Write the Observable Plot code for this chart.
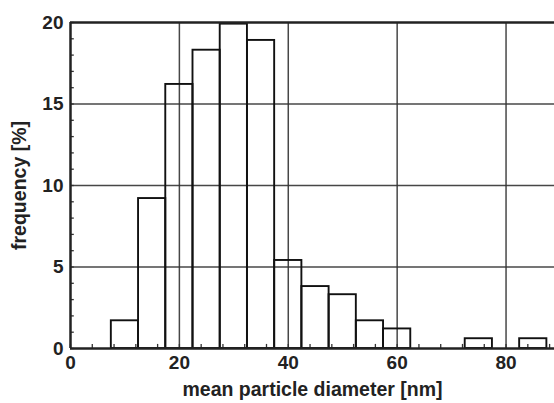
<!DOCTYPE html>
<html>
<head>
<meta charset="utf-8">
<script src="https://cdn.jsdelivr.net/npm/d3@7"></script>
<script src="https://cdn.jsdelivr.net/npm/@observablehq/plot@0.6"></script>
<style>
  html, body { margin: 0; padding: 0; background: #fff; }
  svg { display: block; }
</style>
</head>
<body>
<div id="chart"></div>
<script>
const binCenters = [10, 15, 20, 25, 30, 35, 40, 45, 50, 55, 60, 65, 70, 75, 80, 85];
const frequency  = [1.7, 9.2, 16.2, 18.3, 19.9, 18.9, 5.4, 3.8, 3.3, 1.7, 1.2, 0, 0, 0.6, 0, 0.6];
const binWidth = 5;
const xTicks = [0, 20, 40, 60, 80];
const yTicks = [0, 5, 10, 15, 20];
const xMinor = d3.range(0, 89, 4);
const yMinor = d3.range(0, 21, 1);

const bins = binCenters.map((c, i) => ({x1: c - binWidth / 2, x2: c + binWidth / 2, f: frequency[i]}))
  .filter(d => d.f > 0);

const font = "Liberation Sans, Arial, Helvetica, sans-serif";

const chart = Plot.plot({
  width: 554,
  height: 403,
  marginLeft: 70,
  marginRight: 0,
  marginTop: 22,
  marginBottom: 55,
  style: {fontFamily: font, fontSize: "15px", fontWeight: "bold", color: "#222", background: "#fff"},
  x: {domain: [0, 88.9]},
  y: {domain: [0, 20]},
  marks: [
    Plot.gridX(xTicks.filter(d => d > 0), {stroke: "#333", strokeOpacity: 0.9, strokeWidth: 1.5}),
    Plot.gridY(yTicks.filter(d => d > 0 && d < 20), {stroke: "#333", strokeOpacity: 0.9, strokeWidth: 1.5}),
    Plot.ruleX(xMinor, {y1: 0, y2: 0.25, stroke: "#333", strokeWidth: 1.3}),
    Plot.ruleY(yMinor, {x1: 0, x2: 0.7, stroke: "#333", strokeWidth: 1.3}),
    Plot.rect(bins, {x1: "x1", x2: "x2", y1: 0, y2: "f", fill: "none", stroke: "#111", strokeWidth: 1.9}),
    Plot.ruleY([0, 20], {stroke: "#222", strokeWidth: 2.5}),
    Plot.ruleX([0], {stroke: "#222", strokeWidth: 2.5}),
    Plot.axisX(xTicks, {tickSize: 0, tickPadding: 7, label: null, fontSize: 19, fontWeight: "bold", fill: "#222"}),
    Plot.axisY(yTicks, {tickSize: 0, tickPadding: 7, label: null, fontSize: 19, fontWeight: "bold", fill: "#222"}),
    Plot.text(["mean particle diameter [nm]"], {frameAnchor: "bottom", dy: 47, fontSize: 19.5, fontWeight: "bold", fill: "#222"}),
    Plot.text(["frequency [%]"], {frameAnchor: "left", textAnchor: "middle", dx: -51, rotate: -90, fontSize: 19.5, fontWeight: "bold", fill: "#222"})
  ]
});
document.getElementById("chart").append(chart);
</script>
</body>
</html>
